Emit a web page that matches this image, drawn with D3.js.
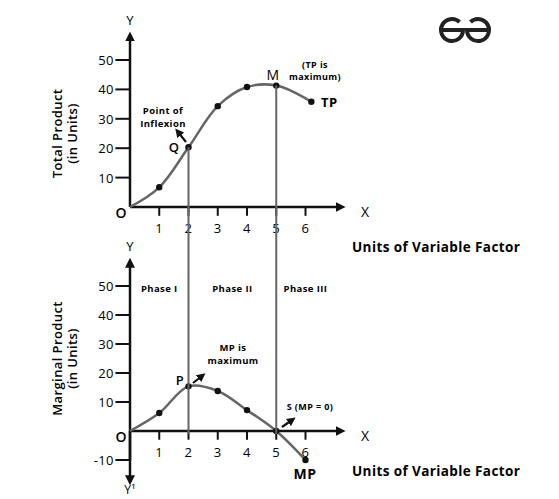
<!DOCTYPE html>
<html><head><meta charset="utf-8">
<script src="https://cdn.jsdelivr.net/npm/d3@7"></script>
<style>body{margin:0;background:#fff}text{font-family:"Open Sans",sans-serif;letter-spacing:0.4px}</style>
</head><body><svg id="c" width="559" height="499"></svg>
<script>
// data
const tpPoints = [[0,0],[1,6.7],[2,20.3],[3,34.3],[4,40.8],[5,41.3],[6.2,35.8]];
const mpPoints = [[0,0],[1,6.2],[2,15.4],[3,13.8],[4,7.2],[5,0],[6,-10]];
const xTicks = [1,2,3,4,5,6];
const yTicks = [10,20,30,40,50];
const phases = [["Phase I",1],["Phase II",3.5],["Phase III",6]];

const svg = d3.select("#c");
const ink = "#111", curveCol = "#666";

const x = d3.scaleLinear().domain([0,6]).range([130,305.5]);
const yTop = d3.scaleLinear().domain([0,50]).range([207,60]);
const yBot = d3.scaleLinear().domain([0,50]).range([431,286]);

svg.append("defs").append("marker").attr("id","ah").attr("viewBox","0 0 10 10")
  .attr("refX",5).attr("refY",5).attr("markerWidth",4).attr("markerHeight",4).attr("orient","auto")
  .append("path").attr("d","M0,0L10,5L0,10z").attr("fill",ink);

function panel(y, yMin, yLabel, curvePts, opts) {
  const g = svg.append("g");
  g.append("line").attr("x1",x(0)).attr("x2",x(0)).attr("y1",y(yMin)).attr("y2",y(58))
    .attr("stroke",ink).attr("stroke-width",2.5).attr("marker-end","url(#ah)");
  if (opts.down) g.append("line").attr("x1",x(0)).attr("x2",x(0)).attr("y1",y(0)).attr("y2",y(-17))
    .attr("stroke",ink).attr("stroke-width",2.5).attr("marker-end","url(#ah)");
  g.append("line").attr("x1",x(0)).attr("x2",x(7.2)).attr("y1",y(0)).attr("y2",y(0))
    .attr("stroke",ink).attr("stroke-width",2.5).attr("marker-end","url(#ah)");
  g.append("text").attr("x",x(0)).attr("y",y(62)).attr("text-anchor","middle")
    .attr("font-size",13).text("Y");
  g.append("text").attr("x",x(7.9)).attr("y",y(-2)+4).attr("font-size",14).text("X");
  g.append("text").attr("x",x(-0.3)).attr("y",y(-2.3)+4).attr("text-anchor","middle")
    .attr("font-size",14).attr("font-weight",600).text("O");
  yTicks.concat(opts.down ? [-10] : []).forEach(t => {
    g.append("line").attr("x1",x(-0.5)).attr("x2",x(0)).attr("y1",y(t)).attr("y2",y(t))
      .attr("stroke",ink).attr("stroke-width",2);
    g.append("text").attr("x",x(-0.55)).attr("y",y(t)+5).attr("text-anchor","end")
      .attr("font-size",13).text(t);
  });
  xTicks.forEach(t => {
    g.append("line").attr("x1",x(t)).attr("x2",x(t)).attr("y1",y(0)).attr("y2",y(-3))
      .attr("stroke",ink).attr("stroke-width",2);
    g.append("text").attr("x",x(t)).attr("y",y(-9)).attr("text-anchor","middle")
      .attr("font-size",13).text(t);
  });
  const lt = g.append("text").attr("transform",`translate(62,${y(25)}) rotate(-90)`)
    .attr("text-anchor","middle").attr("font-size",13).attr("font-weight",600);
  lt.append("tspan").attr("x",0).attr("dy",0).text(yLabel[0]);
  lt.append("tspan").attr("x",0).attr("dy",15).text(yLabel[1]);
  g.append("text").attr("x",352).attr("y",y(-14)+4).attr("font-size",13.5)
    .attr("font-weight",700).text("Units of Variable Factor");
  g.append("path").datum(curvePts)
    .attr("d",d3.line().x(d=>x(d[0])).y(d=>y(d[1])).curve(d3.curveCatmullRom.alpha(0.5)))
    .attr("fill","none").attr("stroke",curveCol).attr("stroke-width",2.5);
  g.selectAll("circle").data(curvePts.slice(1)).join("circle")
    .attr("cx",d=>x(d[0])).attr("cy",d=>y(d[1])).attr("r",3.2).attr("fill",ink);
  return g;
}

panel(yTop, 0, ["Total Product","(in Units)"], tpPoints, {});
panel(yBot, -10, ["Marginal Product","(in Units)"], mpPoints, {down:true});

// vertical guide lines
[[2,20.3],[5,41.3]].forEach(([a,b]) => svg.append("line").attr("x1",x(a)).attr("x2",x(a))
  .attr("y1",yTop(b)).attr("y2",yBot(-1)).attr("stroke",curveCol).attr("stroke-width",2));

function arrow(x1,y1,x2,y2){ svg.append("line").attr("x1",x1).attr("y1",y1).attr("x2",x2).attr("y2",y2)
  .attr("stroke",ink).attr("stroke-width",2.2).attr("marker-end","url(#ah)"); }
function lbl(tx,ty,lines,size,anchor,weight){
  lines.forEach((s,i)=>svg.append("text").attr("x",tx).attr("y",ty+i*(size+3)).attr("font-size",size)
    .attr("text-anchor",anchor||"middle").attr("font-weight",weight||700).text(s));
}
lbl(163,114,["Point of","Inflexion"],9.5);
arrow(186,142,178,132);
lbl(174,152,["Q"],13,"middle",600);
lbl(273,80,["M"],14,"middle",500);
lbl(315,68,["(TP is","maximum)"],9);
lbl(321,107,["TP"],13,"start");
phases.forEach(([p,v])=>lbl(x(v),yBot(48),[p],9.5));
lbl(233,351,["MP is","maximum"],9.5);
arrow(193,383,202,376);
lbl(180,385,["P"],13,"middle",600);
lbl(310,410,["S (MP = 0)"],9);
arrow(282,427,292,420);
lbl(305,479,["MP"],14);
lbl(130,494,["Y\u00B9"],12,"middle",400);

const lg = svg.append("g").attr("fill","none").attr("stroke","#222").attr("stroke-width",4);
lg.append("path").attr("d","M441,30 h22 a11,11 0 1 1 -3.5,-8");
lg.append("path").attr("d","M489,30 h-22 a11,11 0 1 0 3.5,-8");
</script></body></html>
